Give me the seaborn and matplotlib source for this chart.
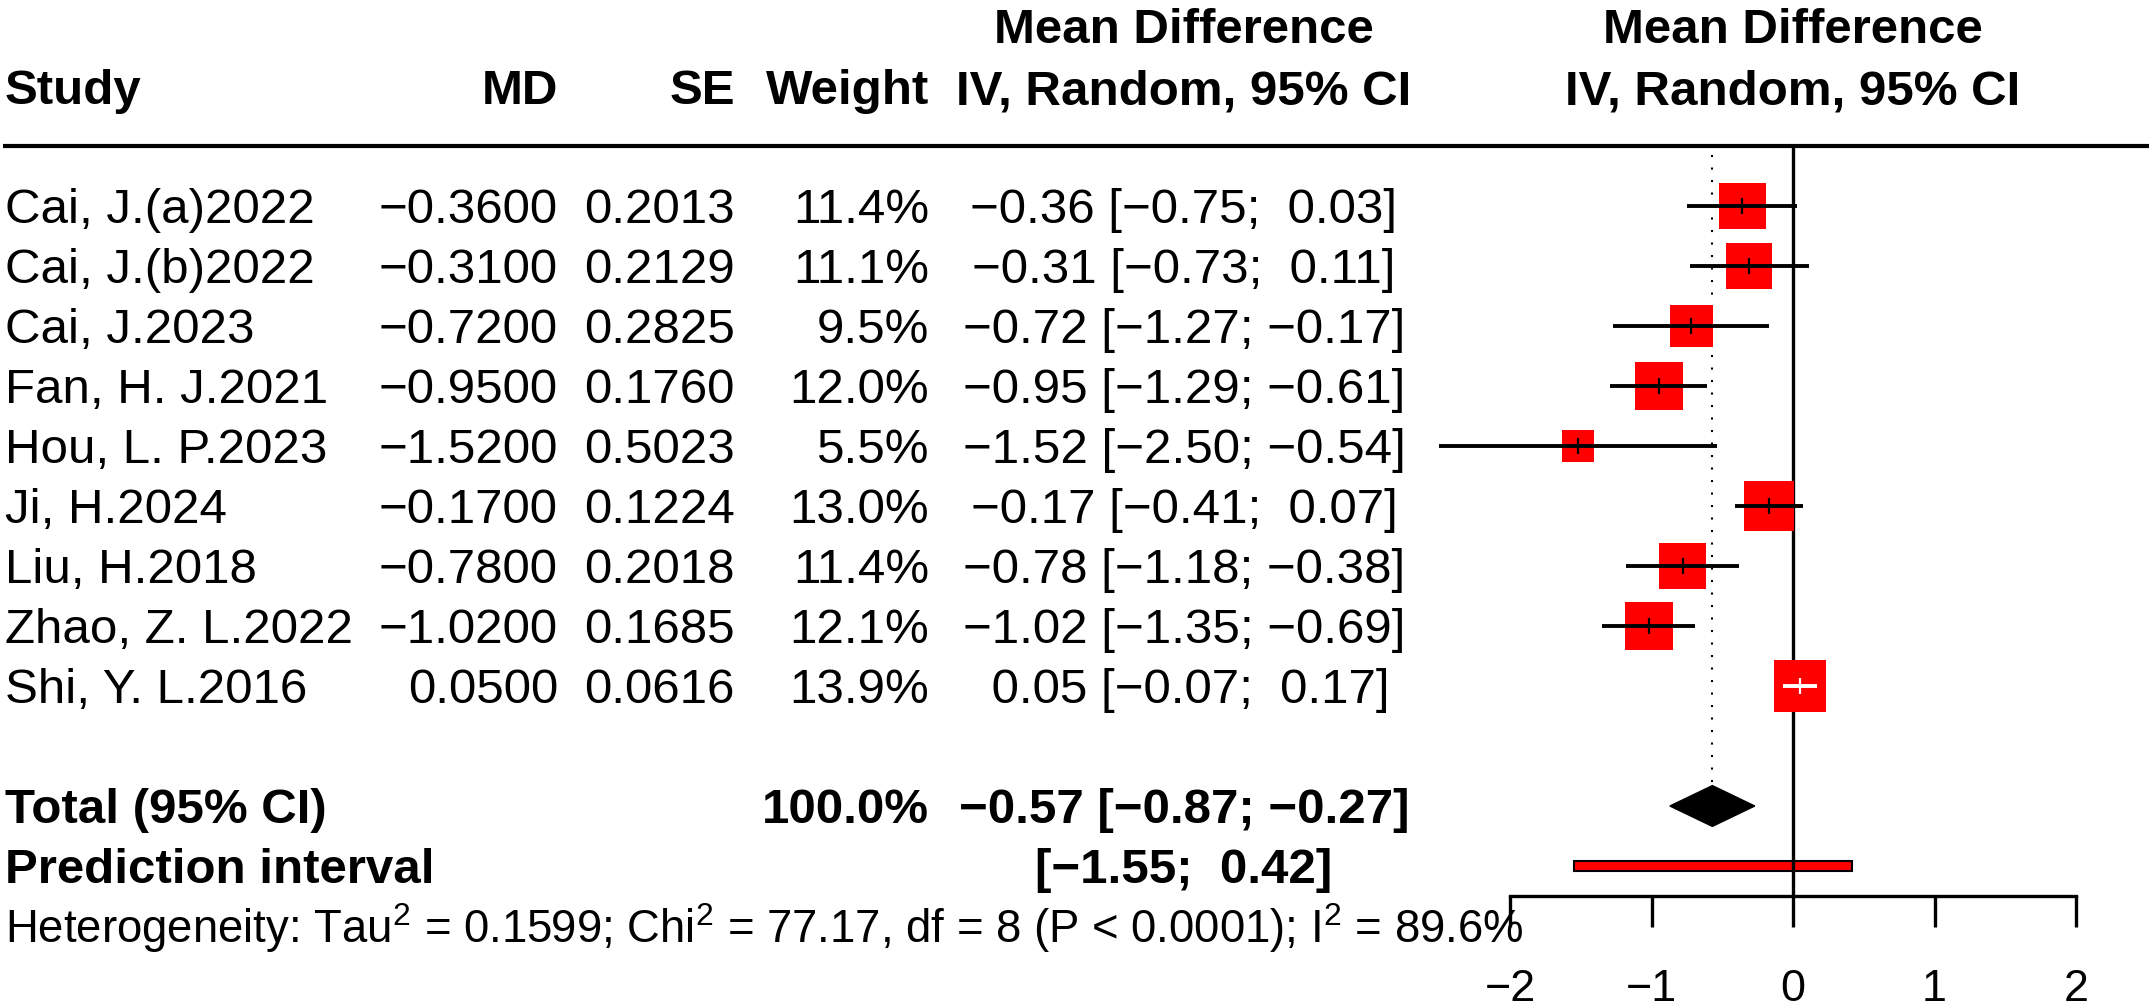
import numpy as np
import pandas as pd
import matplotlib
matplotlib.use("Agg")
import matplotlib.pyplot as plt
import seaborn as sns
from matplotlib.patches import Polygon, Rectangle

# datos del forest plot
studies = ["Cai, J.(a)2022", "Cai, J.(b)2022", "Cai, J.2023", "Fan, H. J.2021",
           "Hou, L. P.2023", "Ji, H.2024", "Liu, H.2018", "Zhao, Z. L.2022",
           "Shi, Y. L.2016"]
md = [-0.36, -0.31, -0.72, -0.95, -1.52, -0.17, -0.78, -1.02, 0.05]
se = [0.2013, 0.2129, 0.2825, 0.1760, 0.5023, 0.1224, 0.2018, 0.1685, 0.0616]
weight = [11.4, 11.1, 9.5, 12.0, 5.5, 13.0, 11.4, 12.1, 13.9]
ci_lo = [-0.75, -0.73, -1.27, -1.29, -2.50, -0.41, -1.18, -1.35, -0.07]
ci_hi = [0.03, 0.11, -0.17, -0.61, -0.54, 0.07, -0.38, -0.69, 0.17]

total_md = -0.57
total_lo, total_hi = -0.87, -0.27
total_weight = "100.0%"
pred_lo, pred_hi = -1.55, 0.42
tau2, chi2, df_het, p_text, i2 = 0.1599, 77.17, 8, "P < 0.0001", 89.6
x_ticks = [-2, -1, 0, 1, 2]


def fmt(v, nd, w=0):
    return f"{v:{w}.{nd}f}".replace("-", "\u2212")


sns.set_theme(style="white")
plt.rcParams['font.family'] = ['Liberation Sans', 'DejaVu Sans']
plt.rcParams['mathtext.fontset'] = 'custom'
plt.rcParams['mathtext.rm'] = 'Liberation Sans'
plt.rcParams['mathtext.default'] = 'regular'
plt.rcParams['text.color'] = 'black'
plt.rcParams['xtick.color'] = 'black'
plt.rcParams['xtick.labelcolor'] = 'black'

W, H = 2152, 1008
fig = plt.figure(figsize=(W / 100, H / 100), dpi=100)

# capa de texto en pixeles
bg = fig.add_axes([0, 0, 1, 1])
bg.set_xlim(0, W)
bg.set_ylim(H, 0)
bg.axis('off')

# panel del grafico: -2..2 -> 1510..2076 px, filas cada 60 px
x0, x1, ytop, ybot = 1510, 2076, 146, 896
ax = fig.add_axes([x0 / W, (H - ybot) / H, (x1 - x0) / W, (ybot - ytop) / H])
ax.set_xlim(-2, 2)
ax.set_ylim(11.5, -1)
ax.patch.set_alpha(0)

rows = np.arange(len(studies))
row_total, row_pred = 10, 11
px_unit = (x1 - x0) / 4


def row_px(r):
    return ytop + (r + 1) * 60


fs = 35.5
off = 17  # baseline debajo del centro de la fila

# encabezados
bg.text(5, 104, "Study", fontsize=fs, fontweight='bold', ha='left', va='baseline')
bg.text(558, 104, "MD", fontsize=fs, fontweight='bold', ha='right', va='baseline')
bg.text(735, 104, "SE", fontsize=fs, fontweight='bold', ha='right', va='baseline')
bg.text(929, 104, "Weight", fontsize=fs, fontweight='bold', ha='right', va='baseline')
for xc in [1184, 1793]:
    bg.text(xc, 43, "Mean Difference", fontsize=fs, fontweight='bold', ha='center', va='baseline')
    bg.text(xc, 104, "IV, Random, 95% CI", fontsize=fs, fontweight='bold', ha='center', va='baseline')
bg.plot([3, 2149], [146, 146], color='black', lw=3, solid_capstyle='butt')

# filas de estudios
for i in range(len(studies)):
    yb = row_px(rows[i]) + off
    bg.text(5, yb, studies[i], fontsize=fs, ha='left', va='baseline')
    bg.text(558, yb, fmt(md[i], 4), fontsize=fs, ha='right', va='baseline')
    bg.text(735, yb, fmt(se[i], 4), fontsize=fs, ha='right', va='baseline')
    bg.text(929, yb, f"{weight[i]:.1f}%", fontsize=fs, ha='right', va='baseline')
    ci_txt = f"{fmt(md[i], 2, 5)} [{fmt(ci_lo[i], 2, 5)}; {fmt(ci_hi[i], 2, 5)}]"
    bg.text(1184, yb, ci_txt, fontsize=fs, ha='center', va='baseline')

# total y prediccion
yb = row_px(row_total) + off
bg.text(5, yb, "Total (95% CI)", fontsize=fs, fontweight='bold', ha='left', va='baseline')
bg.text(929, yb, total_weight, fontsize=fs, fontweight='bold', ha='right', va='baseline')
bg.text(1184, yb, f"{fmt(total_md, 2, 5)} [{fmt(total_lo, 2, 5)}; {fmt(total_hi, 2, 5)}]",
        fontsize=fs, fontweight='bold', ha='center', va='baseline')
yb = row_px(row_pred) + off
bg.text(5, yb, "Prediction interval", fontsize=fs, fontweight='bold', ha='left', va='baseline')
bg.text(1184, yb, f"[{fmt(pred_lo, 2, 5)}; {fmt(pred_hi, 2, 5)}]",
        fontsize=fs, fontweight='bold', ha='center', va='baseline')

het = (f"Heterogeneity: Tau$^2$ = {tau2:.4f}; Chi$^2$ = {chi2:.2f}, df = {df_het} "
       f"({p_text}); I$^2$ = {i2:.1f}%")
bg.text(5, 943, het, fontsize=32.8, ha='left', va='baseline', zorder=5)

# lineas de referencia
ax.axvline(0, color='black', lw=2.4, zorder=2)
ax.plot([total_md, total_md], [-0.85, row_total - 0.34], color='black', lw=1.5,
        ls=(0, (1, 5)), zorder=1)

# cuadrados (area proporcional al peso)
df = pd.DataFrame({"md": md, "row": rows, "weight": weight})
sns.scatterplot(data=df, x="md", y="row", size="weight",
                sizes={w: 100 * w for w in weight}, marker='s', color='red',
                linewidth=0, legend=False, ax=ax, zorder=3)

# IC: blanco si queda dentro del cuadrado
line_cols = []
for i in range(len(studies)):
    half = 13.89 * np.sqrt(weight[i]) / 2 / px_unit
    inside = ci_lo[i] >= md[i] - half and ci_hi[i] <= md[i] + half
    line_cols.append('white' if inside else 'black')
ax.hlines(rows, ci_lo, ci_hi, colors=line_cols, lw=2.8, zorder=4, clip_on=False)
ax.scatter(md, rows, marker='|', s=11 ** 2, c=line_cols, linewidths=1.6, zorder=5)

# diamante del efecto combinado
ax.add_patch(Polygon([[total_lo, row_total], [total_md, row_total - 0.34],
                      [total_hi, row_total], [total_md, row_total + 0.34]],
                     closed=True, facecolor='black', edgecolor='black', zorder=3))
# intervalo de prediccion
ax.add_patch(Rectangle((pred_lo, row_pred - 0.085), pred_hi - pred_lo, 0.17,
                       facecolor='red', edgecolor='black', lw=1.5, zorder=1.5))

for s in ['top', 'right', 'left']:
    ax.spines[s].set_visible(False)
ax.spines['bottom'].set_bounds(-2, 2)
ax.spines['bottom'].set_linewidth(2.4)
ax.spines['bottom'].set_color('black')
ax.set_yticks([])
ax.set_xticks(x_ticks)
ax.tick_params(axis='x', direction='out', length=22.3, width=2.4, pad=30,
               labelsize=32.3, colors='black', bottom=True)
ax.set_xlabel("")
ax.set_ylabel("")

fig.savefig("out.png", dpi=100)
